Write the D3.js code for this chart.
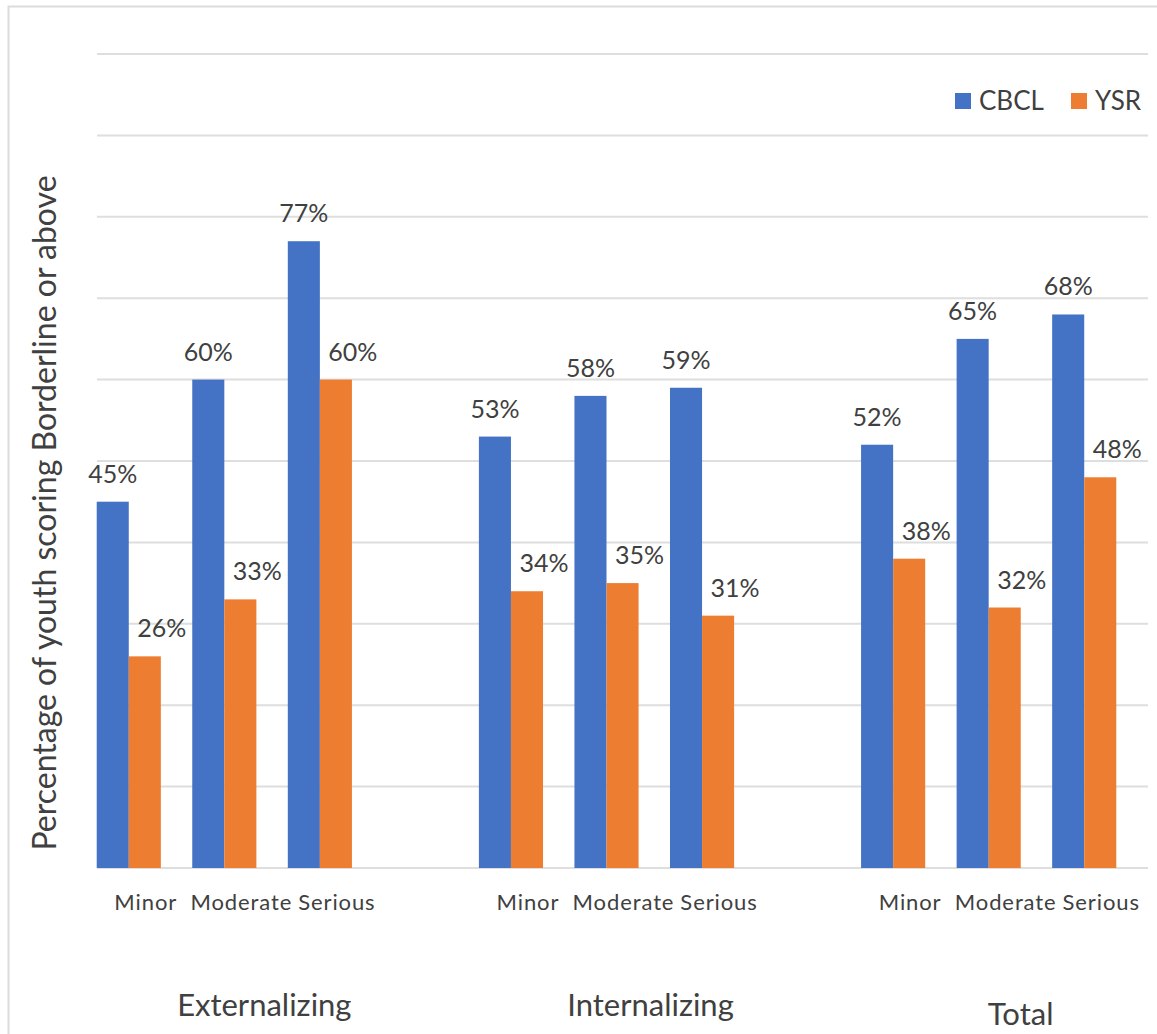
<!DOCTYPE html>
<html>
<head>
<meta charset="utf-8">
<script src="https://cdn.jsdelivr.net/npm/d3@7"></script>
<style>
  html, body { margin: 0; padding: 0; background: #fff; }
  svg { display: block; font-family: Lato, "Open Sans", sans-serif; }
</style>
</head>
<body>
<svg id="chart" width="1157" height="1034"></svg>
<script>
// Scale groups and severity levels on the category axis
const groups = ["Externalizing", "Internalizing", "Total"];
const severities = ["Minor", "Moderate", "Serious"];
const seriesNames = ["CBCL", "YSR"];

// Percentage of youth scoring Borderline or above (group order, then severity order)
const cbclValues = [45, 60, 77, 53, 58, 59, 52, 65, 68];
const ysrValues = [26, 33, 60, 34, 35, 31, 38, 32, 48];

const yTicks = [0, 10, 20, 30, 40, 50, 60, 70, 80, 90, 100];

const colors = { CBCL: "#4472C4", YSR: "#ED7D31" };
const textColor = "#404040";
const gridColor = "#dedede";

const W = 1157, H = 1034;
const plotLeft = 97, plotRight = 1148;
const svg = d3.select("#chart");

// frame around the chart area
svg.append("rect")
  .attr("x", 8.5).attr("y", 6.5)
  .attr("width", W + 20).attr("height", H + 20)
  .attr("fill", "none").attr("stroke", "#dcdcdc").attr("stroke-width", 2);

// one slot per severity, with an empty slot between groups
const rows = [];
groups.forEach((g, gi) => {
  severities.forEach((s, si) => {
    const i = gi * severities.length + si;
    rows.push({ key: g + "|" + s, group: g, severity: s, CBCL: cbclValues[i], YSR: ysrValues[i] });
  });
});
const slots = [];
groups.forEach((g, gi) => {
  severities.forEach(s => slots.push(g + "|" + s));
  if (gi < groups.length - 1) slots.push("gap" + gi);
});

const x0 = d3.scaleBand().domain(slots).range([81, 1132]).paddingInner(0).paddingOuter(0);
const x1 = d3.scaleBand().domain(seriesNames).range([0, x0.bandwidth()]).paddingInner(0).paddingOuter(0.49);
const y = d3.scaleLinear().domain([0, 100]).range([868, 54]);

// horizontal gridlines
svg.append("g").selectAll("line")
  .data(yTicks)
  .join("line")
  .attr("x1", plotLeft).attr("x2", plotRight)
  .attr("y1", d => y(d)).attr("y2", d => y(d))
  .attr("stroke", gridColor).attr("stroke-width", 2);

// bars
const cluster = svg.append("g").selectAll("g")
  .data(rows)
  .join("g")
  .attr("transform", d => `translate(${x0(d.key)},0)`);

cluster.selectAll("rect")
  .data(d => seriesNames.map(n => ({ name: n, value: d[n] })))
  .join("rect")
  .attr("x", d => x1(d.name))
  .attr("width", x1.bandwidth())
  .attr("y", d => y(d.value))
  .attr("height", d => y(0) - y(d.value))
  .attr("fill", d => colors[d.name]);

// value labels above each bar (YSR labels sit a little to the right)
const labelDx = { CBCL: 0, YSR: 17 };
cluster.selectAll("text")
  .data(d => seriesNames.map(n => ({ name: n, value: d[n] })))
  .join("text")
  .attr("x", d => x1(d.name) + x1.bandwidth() / 2 + labelDx[d.name])
  .attr("y", d => y(d.value) - 19)
  .attr("text-anchor", "middle")
  .attr("fill", textColor)
  .attr("font-size", 25)
  .text(d => d.value + "%");

// severity labels under the baseline
svg.append("g").selectAll("text")
  .data(rows)
  .join("text")
  .attr("x", d => x0(d.key) + x0.bandwidth() / 2 + 17)
  .attr("y", 910)
  .attr("text-anchor", "middle")
  .attr("fill", textColor)
  .attr("font-size", 22)
  .attr("letter-spacing", 0.9)
  .text(d => d.severity);

// group labels
const groupDx = [40, 44, 32];
const groupY = [1016, 1016, 1025];
svg.append("g").selectAll("text")
  .data(groups)
  .join("text")
  .attr("x", (g, i) => x0(g + "|" + severities[1]) + x0.bandwidth() / 2 + groupDx[i])
  .attr("y", (g, i) => groupY[i])
  .attr("text-anchor", "middle")
  .attr("fill", textColor)
  .attr("font-size", 31)
  .text(g => g);

// y-axis title
svg.append("text")
  .attr("transform", `translate(56,${(178 + 848) / 2}) rotate(-90)`)
  .attr("text-anchor", "middle")
  .attr("fill", textColor)
  .attr("font-size", 32)
  .text("Percentage of youth scoring Borderline or above");

// legend
const legend = svg.append("g").attr("transform", "translate(955,101)");
const legendX = [0, 116];
const item = legend.selectAll("g")
  .data(seriesNames)
  .join("g")
  .attr("transform", (d, i) => `translate(${legendX[i]},0)`);
item.append("rect")
  .attr("x", 0).attr("y", -8)
  .attr("width", 16).attr("height", 16)
  .attr("fill", d => colors[d]);
item.append("text")
  .attr("x", 24).attr("y", 9)
  .attr("fill", textColor)
  .attr("font-size", 26)
  .text(d => d);
</script>
</body>
</html>
